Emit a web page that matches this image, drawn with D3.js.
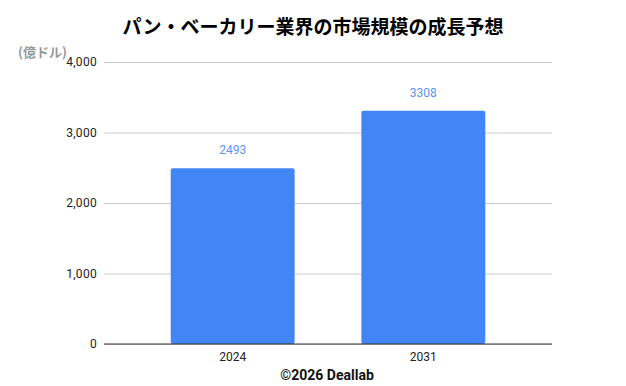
<!DOCTYPE html>
<html>
<head>
<meta charset="utf-8">
<script src="https://cdn.jsdelivr.net/npm/d3@7"></script>
<style>
  body { margin: 0; background: #fff; }
  text { font-family: Roboto, "Noto Sans CJK JP", sans-serif; }
</style>
</head>
<body>
<div id="chart"></div>
<script>
var svgWidth = 626;
var svgHeight = 386;
var margin = ({top: 62, right: 74, bottom: 42, left: 104});

var years = ["2024", "2031"];
var values = [2493, 3308];
var yTicks = [0, 1000, 2000, 3000, 4000];

var title = "パン・ベーカリー業界の市場規模の成長予想";
var unit = "(億ドル)";
var credit = "©2026 Deallab";

var w = svgWidth - margin.left - margin.right;
var h = svgHeight - margin.top - margin.bottom;

var x = d3.scaleBand()
    .domain(years)
    .range([0, w])
    .paddingInner(0.35)
    .paddingOuter(0.35);
var y = d3.scaleLinear()
    .domain([0, 4000])
    .range([h, 0]);

var svg = d3.select("#chart").append("svg")
    .attr("width", svgWidth)
    .attr("height", svgHeight);

svg.append("text")
    .attr("x", 313)
    .attr("y", 34)
    .attr("text-anchor", "middle")
    .style("font-family", "'Noto Sans CJK JP', sans-serif")
    .style("font-size", "19px")
    .style("font-weight", "bold")
    .attr("fill", "#000")
    .text(title);

var g = svg.append("g")
    .attr("transform", "translate(" + margin.left + "," + margin.top + ")");

// grid
var grid = g.append("g")
    .call(d3.axisLeft(y)
        .tickValues(yTicks)
        .tickSize(-w)
        .tickFormat(d3.format(",")));
grid.select(".domain").remove();
grid.selectAll(".tick line").attr("stroke", "#cccccc");
grid.selectAll(".tick text")
    .attr("x", -7)
    .attr("fill", "#222")
    .style("font-size", "12px")
    .style("letter-spacing", "0.3px");

// bars
g.selectAll(".bar")
    .data(values)
    .enter().append("rect")
    .attr("class", "bar")
    .attr("fill", "#4285f4")
    .attr("x", (d, i) => x(years[i]))
    .attr("y", d => y(d))
    .attr("rx", 2)
    .attr("width", x.bandwidth())
    .attr("height", d => h - y(d));

g.selectAll(".lbl")
    .data(values)
    .enter().append("text")
    .attr("class", "lbl")
    .attr("x", (d, i) => x(years[i]) + x.bandwidth() / 2)
    .attr("y", d => y(d) - 14)
    .attr("text-anchor", "middle")
    .attr("fill", "#5b95f0")
    .style("font-size", "12px")
    .text(d => d);

// x axis
var xaxis = g.append("g")
    .attr("transform", "translate(0," + h + ")")
    .call(d3.axisBottom(x).tickSize(0).tickPadding(8));
xaxis.select(".domain").attr("stroke", "#333").attr("d", "M0,0H" + w);
xaxis.selectAll("text").attr("fill", "#222").style("font-size", "12px");

svg.append("text")
    .attr("x", 18)
    .attr("y", 57)
    .attr("fill", "#999")
    .style("font-family", "'Noto Sans CJK JP', sans-serif")
    .style("font-size", "13px")
    .style("font-weight", "bold")
    .text(unit);

svg.append("text")
    .attr("x", 327)
    .attr("y", 380)
    .attr("text-anchor", "middle")
    .attr("fill", "#111")
    .style("font-size", "14px")
    .style("font-weight", "bold")
    .text(credit);
</script>
</body>
</html>
